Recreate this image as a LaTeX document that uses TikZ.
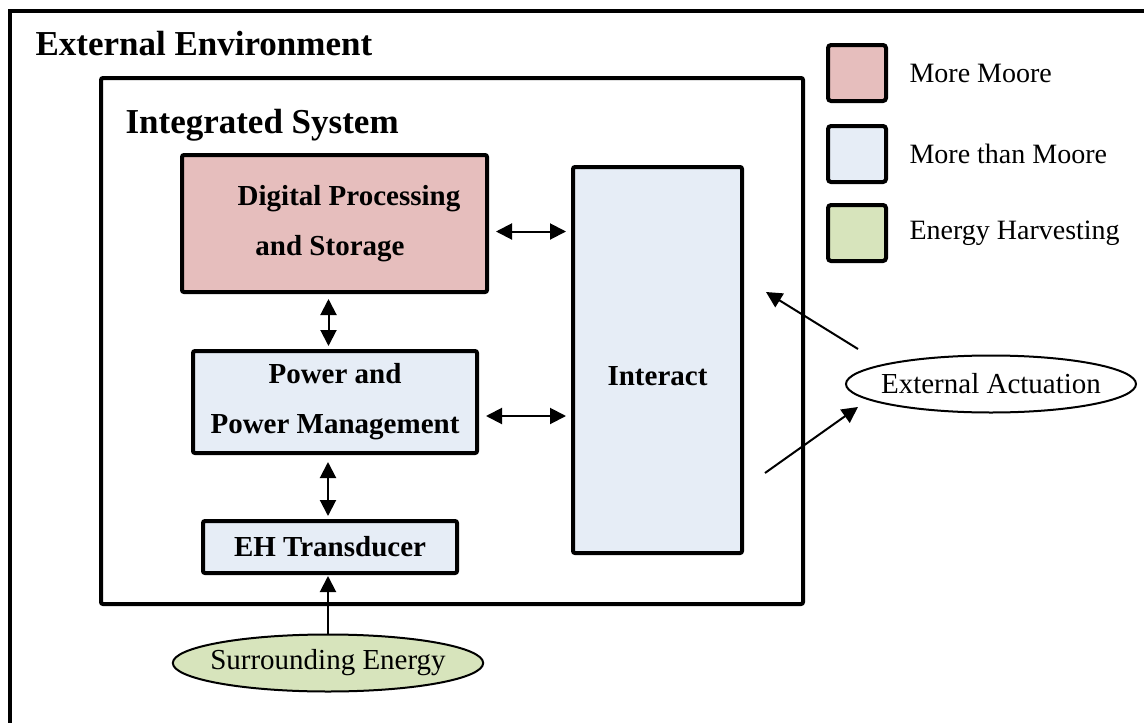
\documentclass[tikz,border=0pt]{standalone}
\usepackage{fontspec}
\setmainfont{Liberation Serif}
\usetikzlibrary{arrows.meta}
\usetikzlibrary{shapes.geometric}
\usetikzlibrary{positioning}
\definecolor{moore}{HTML}{E6BEBD}
\definecolor{thanmoore}{HTML}{E6EDF6}
\definecolor{harvest}{HTML}{D7E4BC}
\tikzset{
	block/.style={draw, line width=4pt, rounded corners=2pt, inner sep=0pt, align=center,
		font=\fontsize{29}{50}\selectfont\bfseries},
	legbox/.style={draw, line width=4pt, rounded corners=3pt, minimum width=58pt, minimum height=56pt},
	legtext/.style={anchor=west, font=\fontsize{28}{34}\selectfont},
	source/.style={draw, ellipse, line width=2pt, inner xsep=-8pt, inner ysep=0pt, minimum width=290pt,
		minimum height=57pt, font=\fontsize{29}{34}\selectfont},
	title/.style={anchor=base west, font=\fontsize{35}{42}\selectfont\bfseries},
	dbl/.style={{Triangle[length=16pt,width=16pt]}-{Triangle[length=16pt,width=16pt]}, line width=2pt},
	sgl/.style={-{Triangle[length=16pt,width=16pt]}, line width=2pt}
}
\begin{document}
\begin{tikzpicture}[x=1pt,y=-1pt]
	\useasboundingbox (0,0) rectangle (1144,723);
	% frames
	\draw[line width=4pt] (10,723) -- (10,11) -- (1144,11);
	\draw[line width=4pt, rounded corners=2pt] (101,78) rectangle (803,604);
	\node[title] (envtitle) at (32,55){External Environment};
	\node[title] (systitle) at (122,133){Integrated System};
	% blocks
	\node[block, fill=moore, minimum width=305pt, minimum height=137pt] (digital) at (334.5,223.5){\hspace*{29pt}Digital Processing\\and Storage\hspace*{9pt}};
	\node[block, fill=thanmoore, minimum width=284pt, minimum height=102pt] (power) at (335,402){Power and\\Power Management};
	\node[block, fill=thanmoore, minimum width=254pt, minimum height=52pt] (eh) at (330,547){EH Transducer};
	\node[block, fill=thanmoore, minimum width=169pt, minimum height=386pt,
		label={[font=\fontsize{29}{34}\selectfont\bfseries, yshift=-16pt]center:Interact}] (interact) at (657.5,360){};
	% legend
	\node[legbox, fill=moore] (leg1) at (857,73){};
	\node[legbox, fill=thanmoore] (leg2) at (857,154){};
	\node[legbox, fill=harvest] (leg3) at (857,233){};
	\node[legtext, right=18pt of leg1] (leg1t){More Moore};
	\node[legtext, right=18pt of leg2] (leg2t){More than Moore};
	\node[legtext, right=18pt of leg3] (leg3t){Energy Harvesting};
	% sources
	\node[source] (ext) at (991,384){External Actuation};
	\node[source, fill=harvest] (energy) at (328,663){Surrounding Energy};
	\coordinate (actin) at (766,292);
	\coordinate (actout) at (765,473);
	% connectors
	\draw[dbl, shorten <=7pt, shorten >=5pt] ([yshift=-8pt]digital.east) -- ([yshift=-8pt]digital.east -| interact.west);
	\draw[dbl, shorten <=7pt, shorten >=5pt] ([yshift=-14pt]power.east) -- ([yshift=-14pt]power.east -| interact.west);
	\draw[dbl, shorten <=5pt, shorten >=3pt] ([xshift=-6pt]digital.south) -- ([xshift=-6pt]digital.south |- power.north);
	\draw[dbl, shorten <=7pt, shorten >=3pt] ([xshift=-2pt]eh.north |- power.south) -- ([xshift=-2pt]eh.north);
	\draw[sgl, shorten >=1pt] (energy.north) -- (energy.north |- eh.south);
	\draw[sgl] ([shift={(13pt,35pt)}]ext.west) -- (actin);
	\draw[sgl] (actout) -- ([shift={(13pt,-23pt)}]ext.west);
\end{tikzpicture}
\end{document}
